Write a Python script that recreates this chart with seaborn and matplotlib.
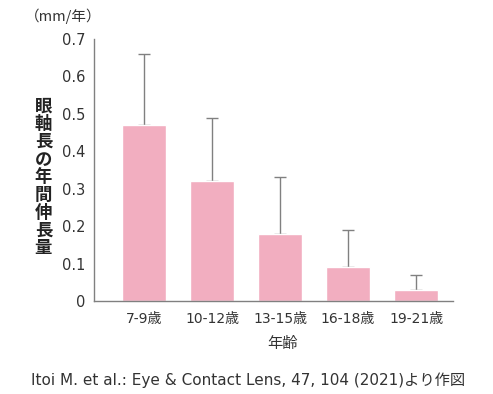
import matplotlib
matplotlib.use('Agg')
import matplotlib.pyplot as plt
import seaborn as sns
import pandas as pd

# data
ages = ['7-9歳', '10-12歳', '13-15歳', '16-18歳', '19-21歳']
growth = [0.47, 0.32, 0.18, 0.09, 0.03]
sd = [0.19, 0.17, 0.15, 0.10, 0.04]
yticks = [0, 0.1, 0.2, 0.3, 0.4, 0.5, 0.6, 0.7]
ytick_labels = ['0', '0.1', '0.2', '0.3', '0.4', '0.5', '0.6', '0.7']

df = pd.DataFrame({'age': ages, 'growth': growth, 'sd': sd})

sns.set_style('white')
plt.rcParams['font.family'] = ['DejaVu Sans', 'Noto Sans CJK JP']

fig = plt.figure(figsize=(4.93, 3.94), dpi=100)
ax = fig.add_axes([0.1907, 0.236, 0.7283, 0.665])

pink = '#f2aec0'
grey = '#808080'
txt = '#333333'

# error bars first, bars on top hide the lower cap
ax.errorbar(range(len(ages)), df['growth'], yerr=[[0] * len(sd), df['sd']],
            fmt='none', ecolor=grey, elinewidth=1, capsize=4, capthick=1, zorder=1)
sns.barplot(data=df, x='age', y='growth', color=pink, width=0.65,
            saturation=1, errorbar=None, ax=ax, zorder=2)

ax.set_xlim(-0.735, 4.544)
ax.set_ylim(0, 0.7)
ax.set_yticks(yticks)
ax.set_yticklabels(ytick_labels, fontsize=10.5, color=txt)
ax.tick_params(axis='y', length=4, width=1, color=grey, pad=2)
ax.tick_params(axis='x', length=0, pad=8, labelsize=10, labelcolor=txt)
ax.set_xlabel('')
ax.set_ylabel('')

for s in ['top', 'right']:
    ax.spines[s].set_visible(False)
for s in ['left', 'bottom']:
    ax.spines[s].set_color(grey)
    ax.spines[s].set_linewidth(1)
    ax.spines[s].set_zorder(3)

fig.text(0.088, 0.55, '\n'.join('眼軸長の年間伸長量'), ha='center', va='center',
         fontsize=12.5, fontweight='bold', linespacing=0.98, color='#222222',
         family=['Noto Sans CJK JP'])
fig.text(0.05, 0.958, '（mm/年）', ha='left', va='center', fontsize=10.5, color=txt,
         family=['Noto Sans CJK JP'])
fig.text(0.574, 0.128, '年齢', ha='center', va='center', fontsize=11, color=txt,
         family=['Noto Sans CJK JP'])
fig.text(0.504, 0.035, 'Itoi M. et al.: Eye & Contact Lens, 47, 104 (2021)より作図',
         ha='center', va='center', fontsize=11, color=txt)

fig.savefig('out.png', dpi=100)
